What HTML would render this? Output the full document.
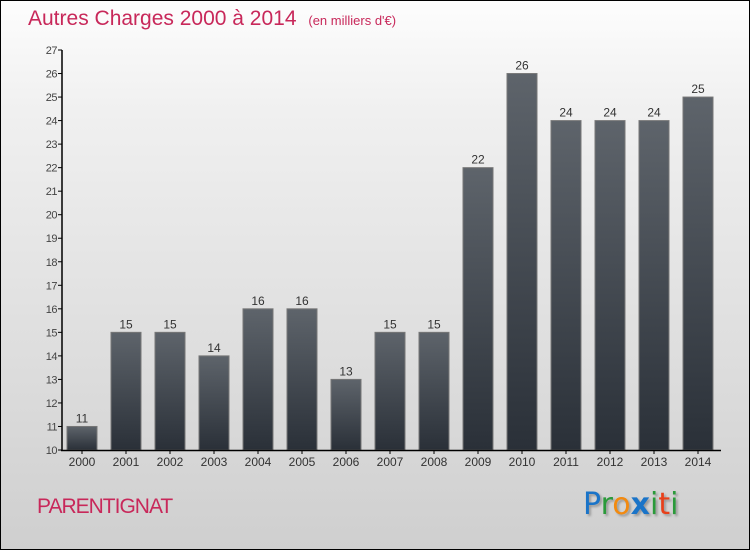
<!DOCTYPE html>
<html><head><meta charset="utf-8"><style>
body{margin:0}
#c{width:750px;height:550px;position:relative;box-sizing:border-box;border:1px solid #000;background:linear-gradient(#fdfdfd,#f0f0f0 20%,#cfcfcf);font-family:"Liberation Sans",sans-serif;overflow:hidden}
</style></head><body>
<div id="c">
<div style="position:absolute;left:27px;top:6px;color:#c8285a;font-size:21px;">Autres Charges 2000 à 2014 <span style="font-size:13px;margin-left:6px">(en milliers d'€)</span></div>
<svg id="s" width="750" height="550" style="position:absolute;left:-1px;top:-1px">
<defs><linearGradient id="g" x1="0" y1="0" x2="0" y2="1"><stop offset="0" stop-color="#5e646b"/><stop offset="1" stop-color="#2a3038"/></linearGradient></defs>
</svg>
<div style="position:absolute;left:36px;top:494px;color:#c8285a;font-size:21px;letter-spacing:-1px">PARENTIGNAT</div>
<div style="position:absolute;left:582px;top:486px;font-size:30px;font-family:'DejaVu Sans',sans-serif;text-shadow:2px 2px 2px #999"><span style="color:#1a74c8">P</span><span style="color:#2a9a3a">r</span><span style="color:#f28a10">o</span><span style="color:#1a74c8;font-weight:bold">x</span><span style="color:#2a9a3a">i</span><span style="color:#e8401a">t</span><span style="color:#2a9a3a">i</span></div>
</div>
<script>
const years=["2000","2001","2002","2003","2004","2005","2006","2007","2008","2009","2010","2011","2012","2013","2014"];
const values=[11,15,15,14,16,16,13,15,15,22,26,24,24,24,25];
const yTicks=[10,11,12,13,14,15,16,17,18,19,20,21,22,23,24,25,26,27];
const s=document.getElementById('s'),NS='http://www.w3.org/2000/svg';
const y0=450,y1=50,vmin=10,vmax=27;
const Y=v=>y0-(v-vmin)/(vmax-vmin)*(y0-y1);
const X=i=>82+i*44;
function mk(t,a,txt){const e=document.createElementNS(NS,t);for(const k in a)e.setAttribute(k,a[k]);if(txt!=null)e.textContent=txt;s.appendChild(e);return e;}
years.forEach((yr,i)=>{
 const b=mk('rect',{x:X(i)-15,y:Y(values[i]),width:30,height:y0-Y(values[i]),fill:'url(#g)',stroke:'#777','stroke-width':1});
 
 
 const l=mk('text',{x:X(i),y:Y(values[i])-4,'text-anchor':'middle','font-size':12,fill:'#333','font-family':'Liberation Sans'},values[i]);
 
 
 mk('line',{x1:X(i),x2:X(i),y1:y0,y2:y0+4,stroke:'#000'});
 const t=mk('text',{x:X(i),y:y0+16,'text-anchor':'middle','font-size':12,fill:'#333','font-family':'Liberation Sans'},yr);
 
 
});
yTicks.forEach(v=>{
 mk('line',{x1:58,x2:62,y1:Y(v),y2:Y(v),stroke:'#000'});
 const t=mk('text',{x:57,y:Y(v)+4,'text-anchor':'end','font-size':11,fill:'#444','font-family':'Liberation Sans','letter-spacing':'-0.5'},v);
 
 
});
const ya=mk('line',{x1:62,x2:62,y1:y1,y2:y0+1,stroke:'#000','stroke-width':1.5});


const xa=mk('line',{x1:61,x2:721,y1:y0+0.5,y2:y0+0.5,stroke:'#000','stroke-width':1.5});


</script>
</body></html>
